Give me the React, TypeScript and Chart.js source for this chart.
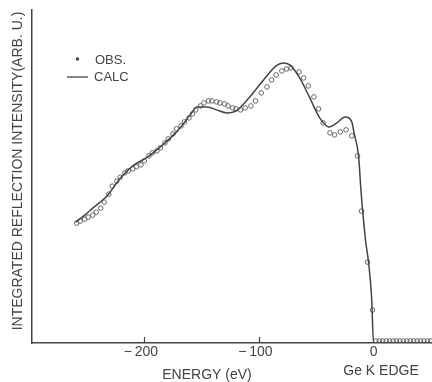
import { useEffect, useRef } from 'react';
import { Chart, registerables } from 'chart.js';

Chart.register(...registerables);

// ---- data ----
const calcEnergy = [
  -260, -252, -245, -232, -221, -210, -197, -186, -171, -160, -154, -145, -137, -128, -120,
  -108, -96, -85, -79, -73, -65, -56, -47, -39, -32, -25, -19, -17, -13, -11, -7, -4.4, -1.7, 0, 51,
];
const calcIntensity = [
  36.3, 38.4, 40.5, 44.4, 49.5, 53.2, 55.9, 58.9, 63.7, 68.5, 70.9, 70.9, 70.0, 69.1, 69.7,
  73.9, 79.0, 83.2, 84.1, 83.5, 79.9, 73.9, 67.6, 64.9, 66.1, 67.9, 66.4, 63.1, 55.9, 45.9, 30.9, 24.3, 13.8, 0, 0,
];

const obsEnergy = [
  -259, -256, -252, -249, -245, -242, -238, -235, -231, -228, -224, -221, -217, -214, -210,
  -207, -203, -200, -196, -193, -189, -186, -182, -179, -175, -172, -168, -165, -161, -158,
  -155, -151, -148, -144, -141, -137, -134, -130, -127, -123, -120, -116, -112, -107, -103,
  -98, -93, -89, -85, -80, -76, -72, -65, -61, -57, -52, -48, -44, -38, -34, -29, -24, -19,
  -14, -10.5, -5.2, -0.9,
  2, 5, 8, 11, 14, 17, 20, 23, 26, 29, 32, 35, 38, 41, 44, 47, 50,
];
const obsIntensity = [
  36.0, 36.6, 37.2, 37.8, 38.4, 39.3, 40.5, 42.3, 44.7, 47.1, 48.6, 49.8, 51.1, 51.7, 52.3,
  52.9, 53.5, 54.7, 56.2, 57.1, 57.7, 58.6, 60.1, 61.3, 62.8, 64.3, 65.2, 66.4, 67.6, 68.8,
  70.0, 71.2, 72.1, 72.7, 72.7, 72.4, 72.1, 71.8, 71.2, 70.6, 70.3, 70.0, 70.6, 71.2, 72.7,
  75.1, 76.9, 79.0, 80.5, 81.7, 82.3, 82.6, 81.4, 79.6, 77.2, 73.9, 70.3, 66.1, 63.1, 62.5, 63.4, 64.0, 62.2,
  56.2, 39.6, 24.3, 9.9,
  0.6, 0.6, 0.6, 0.6, 0.6, 0.6, 0.6, 0.6, 0.6, 0.6, 0.6, 0.6, 0.6, 0.6, 0.6, 0.6, 0.6,
];

const xTickValues = [-200, -100, 0];
const xTickLabels = ['\u2212\u2009200\u2002', '\u2212\u2009100\u2002', '0'];
const xMin = -298;
const xMax = 51;
const yMin = 0;
const yMax = 100;

const yTitle = 'INTEGRATED REFLECTION INTENSITY(ARB. U.)';
const xTitle = 'ENERGY (eV)';
const edgeLabel = 'Ge K EDGE';
const legendLabels = ['OBS.', 'CALC'];

const FONT = '"Liberation Sans", Arial, sans-serif';
const INK = '#444';

const decor = {
  id: 'decor',
  afterDraw(chart: any) {
    const { ctx, chartArea } = chart;
    const x = chart.scales.x;
    ctx.save();
    // upward tick marks
    ctx.strokeStyle = INK;
    ctx.lineWidth = 1.2;
    xTickValues.forEach((v) => {
      if (v === 0) return;
      const px = Math.round(x.getPixelForValue(v)) + 0.5;
      ctx.beginPath();
      ctx.moveTo(px, chartArea.bottom);
      ctx.lineTo(px, chartArea.bottom - 6);
      ctx.stroke();
    });

    ctx.fillStyle = INK;
    ctx.textAlign = 'center';
    ctx.textBaseline = 'middle';

    // y-axis title
    ctx.save();
    ctx.font = `14px ${FONT}`;
    ctx.translate(18, 171);
    ctx.rotate(-Math.PI / 2);
    ctx.fillText(yTitle, 0, 0);
    ctx.restore();

    // x-axis title
    ctx.font = `14px ${FONT}`;
    ctx.fillText(xTitle, 207, 375);
    ctx.fillText(edgeLabel, 381, 371);

    // legend
    ctx.textAlign = 'left';
    ctx.font = `13px ${FONT}`;
    ctx.beginPath();
    ctx.arc(77.5, 59, 1.8, 0, Math.PI * 2);
    ctx.fill();
    ctx.fillText(legendLabels[0], 95, 60.5);
    ctx.strokeStyle = INK;
    ctx.lineWidth = 1.3;
    ctx.beginPath();
    ctx.moveTo(67, 77);
    ctx.lineTo(88, 77);
    ctx.stroke();
    ctx.fillText(legendLabels[1], 94, 77.5);
    ctx.restore();
  },
};

export default function App() {
  const ref = useRef<HTMLCanvasElement>(null);

  useEffect(() => {
    if (!ref.current) return;
    const chart = new Chart(ref.current, {
      type: 'line',
      data: {
        datasets: [
          {
            label: 'CALC',
            data: calcEnergy.map((e, i) => ({ x: e, y: calcIntensity[i] })),
            borderColor: '#444',
            borderWidth: 1.5,
            pointRadius: 0,
            cubicInterpolationMode: 'monotone',
            fill: false,
          },
          {
            label: 'OBS.',
            data: obsEnergy.map((e, i) => ({ x: e, y: obsIntensity[i] })),
            showLine: false,
            pointRadius: 2.3,
            pointBorderWidth: 1,
            pointBorderColor: '#666',
            pointBackgroundColor: 'rgba(255,255,255,0)',
          },
        ],
      },
      options: {
        responsive: false,
        animation: false,
        devicePixelRatio: 1,
        layout: { autoPadding: false, padding: { top: 10, left: 0, right: 0, bottom: 0 } },
        plugins: {
          legend: { display: false },
          tooltip: { enabled: false },
        },
        scales: {
          x: {
            type: 'linear',
            min: xMin,
            max: xMax,
            afterBuildTicks: (scale: any) => {
              scale.ticks = xTickValues.map((v) => ({ value: v }));
            },
            afterFit: (scale: any) => {
              scale.height = 39;
            },
            grid: { display: false, drawTicks: false },
            border: { display: true, color: INK, width: 1.5 },
            ticks: {
              padding: 1,
              color: INK,
              font: { family: FONT, size: 14 },
              maxRotation: 0,
              autoSkip: false,
              callback: (v: any) => {
                const i = xTickValues.indexOf(Number(v));
                return i >= 0 ? xTickLabels[i] : '';
              },
            },
          },
          y: {
            type: 'linear',
            min: yMin,
            max: yMax,
            afterFit: (scale: any) => {
              scale.width = 32;
            },
            grid: { display: false, drawTicks: false },
            border: { display: true, color: INK, width: 1.5 },
            ticks: { display: false },
          },
        },
      },
      plugins: [decor],
    } as any);
    return () => chart.destroy();
  }, []);

  return (
    <div style={{ position: 'absolute', left: 0, top: 0, width: 432, height: 382, background: '#fff' }}>
      <canvas ref={ref} width={432} height={382} style={{ display: 'block' }} />
    </div>
  );
}
